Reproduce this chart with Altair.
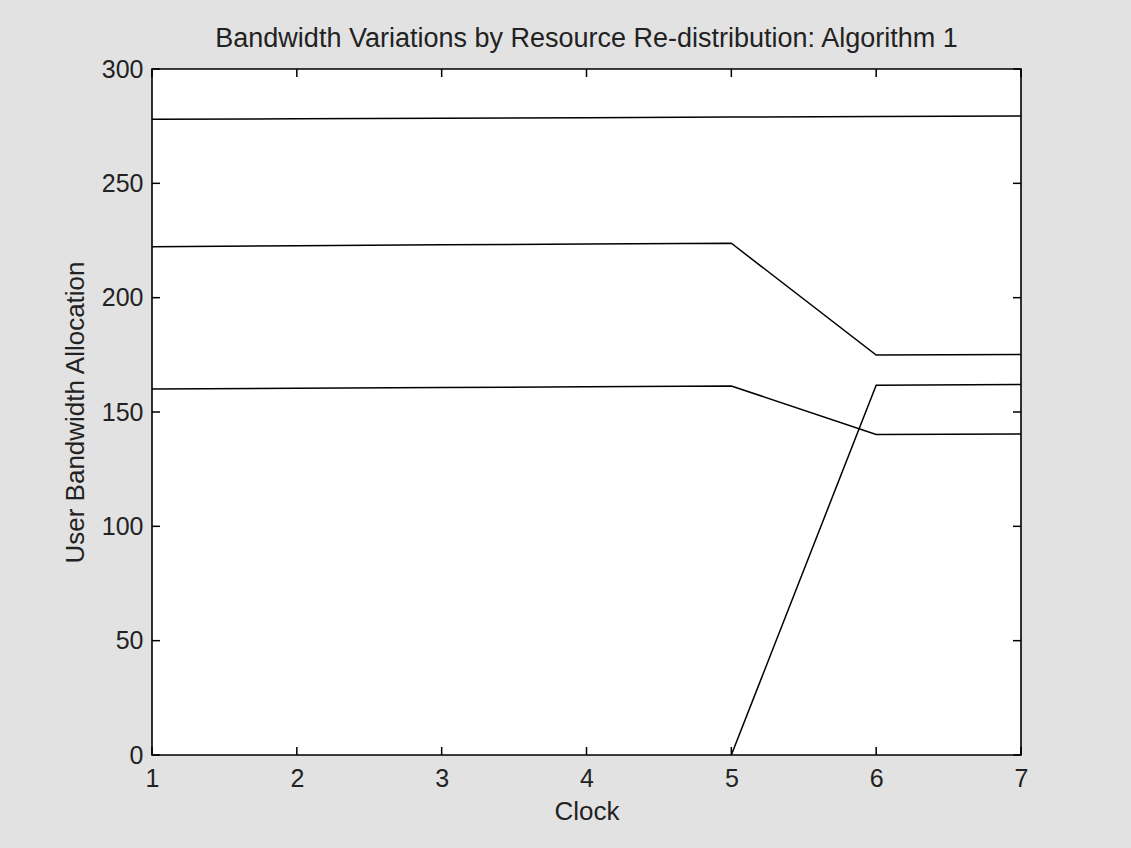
import altair as alt
import pandas as pd

clock = [1, 2, 3, 4, 5, 6, 7]
user1 = [278.0, 278.2, 278.5, 278.7, 279.0, 279.2, 279.4]
user2 = [222.3, 222.7, 223.1, 223.5, 223.8, 174.9, 175.2]
user3 = [160.1, 160.4, 160.7, 161.0, 161.4, 140.2, 140.4]
user4_clock = [5, 6, 7]
user4 = [0.0, 161.7, 162.0]

x_ticks = [1, 2, 3, 4, 5, 6, 7]
y_ticks = [0, 50, 100, 150, 200, 250, 300]

rows = []
for name, xs, ys in [("User 1", clock, user1), ("User 2", clock, user2),
                     ("User 3", clock, user3), ("User 4", user4_clock, user4)]:
    for a, b in zip(xs, ys):
        rows.append({"user": name, "clock": a, "bw": b})
df = pd.DataFrame(rows)

W, H = 869, 686
FONT = "Liberation Sans"

xscale = alt.Scale(domain=[1, 7], nice=False, zero=False)
yscale = alt.Scale(domain=[0, 300], nice=False)

lines = alt.Chart(df).mark_line(color="black", strokeWidth=1.5).encode(
    x=alt.X("clock:Q", scale=xscale, title="Clock",
            axis=alt.Axis(values=x_ticks, format="d", domain=False, ticks=False, grid=False,
                          labelFlush=False,
                          labelFontSize=25, labelFont=FONT, labelColor="#222", labelPadding=11,
                          titleFontSize=26, titleFont=FONT, titleFontWeight="normal",
                          titleColor="#222", titlePadding=7)),
    y=alt.Y("bw:Q", scale=yscale, title="User Bandwidth Allocation",
            axis=alt.Axis(values=y_ticks, format="d", domain=False, ticks=False, grid=False,
                          labelFlush=False,
                          labelFontSize=25, labelFont=FONT, labelColor="#222", labelPadding=9,
                          titleFontSize=26, titleFont=FONT, titleFontWeight="normal",
                          titleColor="#222", titlePadding=13)),
    detail="user:N",
)

xt = pd.DataFrame({"v": x_ticks})
yt = pd.DataFrame({"v": y_ticks})
tk = dict(color="black", strokeWidth=1.5)
xb = alt.Chart(xt).mark_rule(**tk).encode(x=alt.X("v:Q", scale=xscale), y=alt.value(H), y2=alt.value(H - 8))
xtop = alt.Chart(xt).mark_rule(**tk).encode(x=alt.X("v:Q", scale=xscale), y=alt.value(0), y2=alt.value(8))
yl = alt.Chart(yt).mark_rule(**tk).encode(y=alt.Y("v:Q", scale=yscale), x=alt.value(0), x2=alt.value(8))
yr = alt.Chart(yt).mark_rule(**tk).encode(y=alt.Y("v:Q", scale=yscale), x=alt.value(W), x2=alt.value(W - 8))

chart = alt.layer(lines, xb, xtop, yl, yr).properties(
    width=W, height=H,
    title=alt.TitleParams("Bandwidth Variations by Resource Re-distribution: Algorithm 1",
                          fontSize=27, font=FONT, fontWeight="normal", color="#222",
                          anchor="middle", offset=4),
    autosize=alt.AutoSizeParams(type="none"),
    padding={"left": 152, "top": 69, "right": 110, "bottom": 93},
    background="#e2e2e2",
).configure_view(fill="white", stroke="black", strokeWidth=1.6)

chart.save("out.html", embed_options={"renderer": "svg", "actions": False})
